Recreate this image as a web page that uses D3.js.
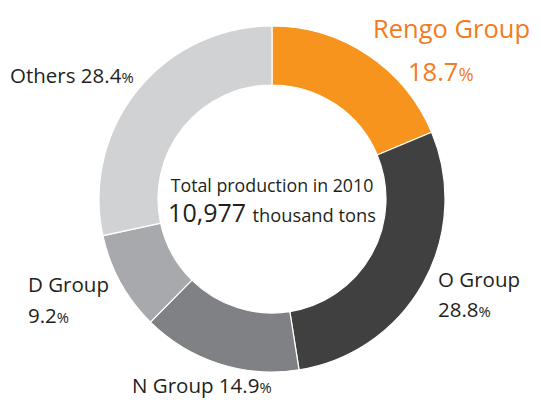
<!DOCTYPE html>
<html>
<head>
<meta charset="utf-8">
<script src="https://cdn.jsdelivr.net/npm/d3@7"></script>
<style>
  body { margin: 0; background: #fff; }
  text { font-family: "Open Sans", "Noto Sans", sans-serif; }
</style>
</head>
<body>
<div id="wrapper"></div>
<script>
// data
const groups = ['Rengo Group', 'O Group', 'N Group', 'D Group', 'Others']
const shares = [18.7, 28.8, 14.9, 9.2, 28.4]
const colors = ['#f7941d', '#404041', '#808184', '#a7a9ac', '#d1d2d4']
const totalYear = 2010
const totalValue = '10,977'

function drawDonut() {
    const width = 541
    const height = 400
    const cx = 272
    const cy = 199
    const outerR = 173
    const innerR = 114

    const svg = d3.select('#wrapper')
        .append('svg')
        .attr('width', width)
        .attr('height', height)

    const data = groups.map((g, i) => ({ name: g, value: shares[i], color: colors[i] }))

    const pie = d3.pie()
        .sort(null)
        .value(d => d.value)

    const arc = d3.arc()
        .innerRadius(innerR)
        .outerRadius(outerR)

    const bounds = svg.append('g')
        .attr('transform', `translate(${cx},${cy})`)

    bounds.selectAll('.slice')
        .data(pie(data))
        .enter().append('path')
        .attr('class', 'slice')
        .attr('d', arc)
        .attr('fill', d => d.data.color)
        .attr('stroke', '#fff')
        .attr('stroke-width', 1.2)

    // labels, placed around the ring (offsets relative to centre)
    const labelLayout = {
        'Rengo Group': { lines: [[101, -161, 'name'], [136, -118, 'pct']], size: 25.5, color: '#f37b21' },
        'O Group': { lines: [[166, 88, 'name'], [166, 118, 'pct']], size: 20.5, color: '#231f20' },
        'N Group': { lines: [[-140, 194, 'both']], size: 20.5, color: '#231f20' },
        'D Group': { lines: [[-244, 93, 'name'], [-244, 124, 'pct']], size: 20.5, color: '#231f20' },
        'Others': { lines: [[-262, -116, 'both']], size: 20.5, color: '#231f20' }
    }

    const labels = bounds.selectAll('.label')
        .data(data)
        .enter().append('g')
        .attr('class', 'label')

    labels.each(function (d) {
        const layout = labelLayout[d.name]
        const g = d3.select(this)
        layout.lines.forEach(([x, y, kind]) => {
            const t = g.append('text')
                .attr('x', x)
                .attr('y', y)
                .attr('fill', layout.color)
                .style('font-size', layout.size + 'px')
            if (kind === 'name') {
                t.text(d.name)
            } else {
                if (kind === 'both') t.append('tspan').text(d.name + ' ')
                t.append('tspan').text(d.value.toFixed(1))
                t.append('tspan').style('font-size', (layout.size * 0.72) + 'px').text('%')
            }
        })
    })

    // centre text
    bounds.append('text')
        .attr('x', 0)
        .attr('y', -7)
        .attr('text-anchor', 'middle')
        .attr('fill', '#231f20')
        .style('font-size', '17.8px')
        .text(`Total production in ${totalYear}`)

    const t2 = bounds.append('text')
        .attr('x', 0)
        .attr('y', 23)
        .attr('text-anchor', 'middle')
        .attr('fill', '#231f20')
    t2.append('tspan').style('font-size', '25px').text(totalValue + ' ')
    t2.append('tspan').style('font-size', '18.3px').text('thousand tons')
}

drawDonut()
</script>
</body>
</html>
